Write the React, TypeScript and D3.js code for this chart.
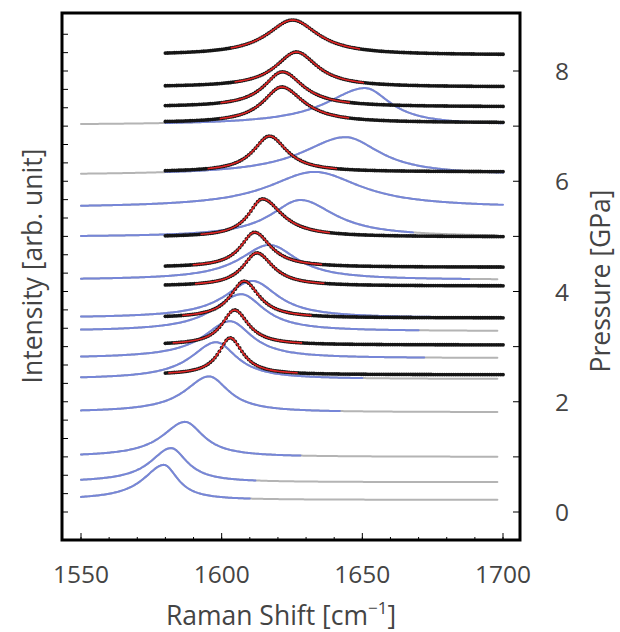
import React from 'react';
import * as d3 from 'd3';

// Gray spectra (full range) with blue fits
const grayPressure = [0.22, 0.54, 1.0, 1.81, 2.41, 2.79, 3.28, 3.52, 4.21, 4.99, 5.52, 6.11, 7.02];
const grayCenter = [1579.5, 1582, 1587, 1595.5, 1598, 1603, 1607, 1611, 1617, 1628, 1633, 1644, 1651];
const grayHeight = [0.635, 0.62, 0.635, 0.65, 0.67, 0.67, 0.67, 0.67, 0.635, 0.67, 0.65, 0.69, 0.67];
const grayHwhmLeft = [9, 9, 10, 10.5, 11, 11.5, 12, 12, 13, 13, 20, 19, 17];
const grayHwhmRight = [6, 7, 8, 8.5, 9, 9.5, 10, 11, 12, 15, 20, 15, 11];
const grayFitFrom = [1550, 1550, 1550, 1550, 1550, 1550, 1550, 1550, 1550, 1550, 1550, 1580, 1580];
const grayFitTo = [1610, 1612, 1628, 1642, 1650, 1672, 1670, 1675, 1688, 1668, 1700, 1700, 1700];

// Black dotted spectra with red fits
const blackPressure = [2.49, 3.03, 3.52, 4.1, 4.44, 4.99, 6.17, 7.06, 7.35, 7.71, 8.29];
const blackCenter = [1603, 1604.6, 1608, 1612.5, 1611.7, 1614.5, 1617, 1621.3, 1621.6, 1626.6, 1625.2];
const blackHeight = [0.67, 0.635, 0.67, 0.6, 0.635, 0.69, 0.65, 0.65, 0.635, 0.635, 0.635];
const blackHwhmLeft = [5, 5.5, 6, 6, 6, 6, 7, 8, 8, 9, 11];
const blackHwhmRight = [5.5, 6, 6.5, 7, 7, 8.5, 7.5, 9.5, 9, 9, 11];

const xTicks = [1550, 1600, 1650, 1700];
const pressureTicks = [0, 1, 2, 3, 4, 5, 6, 7, 8];
const pressureLabels = ['0', '', '2', '', '4', '', '6', '', '8'];

const W = 620, H = 632;
const L = 62, R = 520, T = 13, B = 540;

const x = d3.scaleLinear().domain([1550, 1700]).range([81, 503]);
const y = d3.scaleLinear().domain([0, 8]).range([512, 71]);

function lor(v: number, c: number, a: number, hl: number, hr: number) {
  const w = v < c ? hl : hr;
  const d = (v - c) / w;
  return a / (1 + d * d);
}

function samples(from: number, to: number, step: number) {
  const out: number[] = [];
  for (let v = from; v <= to + 1e-9; v += step) out.push(v);
  return out;
}

const line = d3.line<[number, number]>().x(d => x(d[0])).y(d => y(d[1]));

const FONT = "'Open Sans', 'DejaVu Sans', sans-serif";
const TEXT = '#444';

export default function App() {
  const grayPaths = grayPressure.map((p, i) => {
    const f = (v: number) => p + lor(v, grayCenter[i], grayHeight[i], grayHwhmLeft[i], grayHwhmRight[i]);
    const data = samples(1550, 1698, 0.5).map(v => [v, f(v)] as [number, number]);
    const fit = samples(grayFitFrom[i], grayFitTo[i], 0.5).map(v => [v, f(v)] as [number, number]);
    return { data: line(data) || '', fit: line(fit) || '' };
  });

  const blackSeries = blackPressure.map((p, i) => {
    const f = (v: number) => p + lor(v, blackCenter[i], blackHeight[i], blackHwhmLeft[i], blackHwhmRight[i]);
    const dots = samples(1580, 1700, 0.8).map(v => [x(v), y(f(v))]);
    const fit = samples(blackCenter[i] - 22, blackCenter[i] + 24, 0.5).map(v => [v, f(v)] as [number, number]);
    return { dots, fit: line(fit) || '' };
  });

  const minorX = samples(1550, 1700, 10);
  const leftTicks = d3.range(0, 27).map(k => k / 3);

  return (
    <svg width={W} height={H} style={{ position: 'absolute', left: 0, top: 0, background: '#fff' }}>
      <rect x={0} y={0} width={W} height={H} fill="#fff" />
      <g fill="none" strokeLinejoin="round" strokeLinecap="round">
        {grayPaths.map((g, i) => (
          <path key={'g' + i} d={g.data} stroke="#b4b4b4" strokeWidth={2} />
        ))}
        {grayPaths.map((g, i) => (
          <path key={'b' + i} d={g.fit} stroke="#7686d8" strokeWidth={2} />
        ))}
      </g>
      <g fill="#161616">
        {blackSeries.map((s, i) => (
          <g key={'k' + i}>
            {s.dots.map((d, j) => (
              <circle key={j} cx={d[0]} cy={d[1]} r={1.9} />
            ))}
          </g>
        ))}
      </g>
      <g fill="none">
        {blackSeries.map((s, i) => (
          <path key={'r' + i} d={s.fit} stroke="#e02424" strokeWidth={1.6} />
        ))}
      </g>

      {/* ticks */}
      <g stroke="#000" strokeWidth={1}>
        {minorX.map(v => (
          <line key={'mx' + v} x1={x(v)} x2={x(v)} y1={B} y2={B - 3} />
        ))}
        {xTicks.map(v => (
          <line key={'x' + v} x1={x(v)} x2={x(v)} y1={B} y2={B - 7} />
        ))}
        {leftTicks.map(p => (
          <line key={'l' + p} x1={L} x2={L + 6} y1={y(p)} y2={y(p)} />
        ))}
        {pressureTicks.map(p => (
          <line key={'p' + p} x1={R} x2={R - 7} y1={y(p)} y2={y(p)} />
        ))}
      </g>
      <rect x={L} y={T} width={R - L} height={B - T} fill="none" stroke="#000" strokeWidth={3} />

      {/* labels */}
      <g fontFamily={FONT} fill={TEXT} fontSize={24.5}>
        {xTicks.map(v => (
          <text key={'xt' + v} x={x(v)} y={583} textAnchor="middle">{v}</text>
        ))}
        {pressureTicks.map((p, i) => (
          pressureLabels[i] ? (
            <text key={'pt' + p} x={562} y={y(p) + 9} textAnchor="middle">{pressureLabels[i]}</text>
          ) : null
        ))}
      </g>
      <g fontFamily={FONT} fill={TEXT} fontSize={26.5}>
        <text x={281} y={625} textAnchor="middle">
          Raman Shift [cm<tspan fontSize={17} dy={-11}>−1</tspan><tspan dy={11}>]</tspan>
        </text>
        <text transform="translate(42,266) rotate(-90)" textAnchor="middle">Intensity [arb. unit]</text>
        <text transform="translate(610,281) rotate(-90)" textAnchor="middle">Pressure [GPa]</text>
      </g>
    </svg>
  );
}
